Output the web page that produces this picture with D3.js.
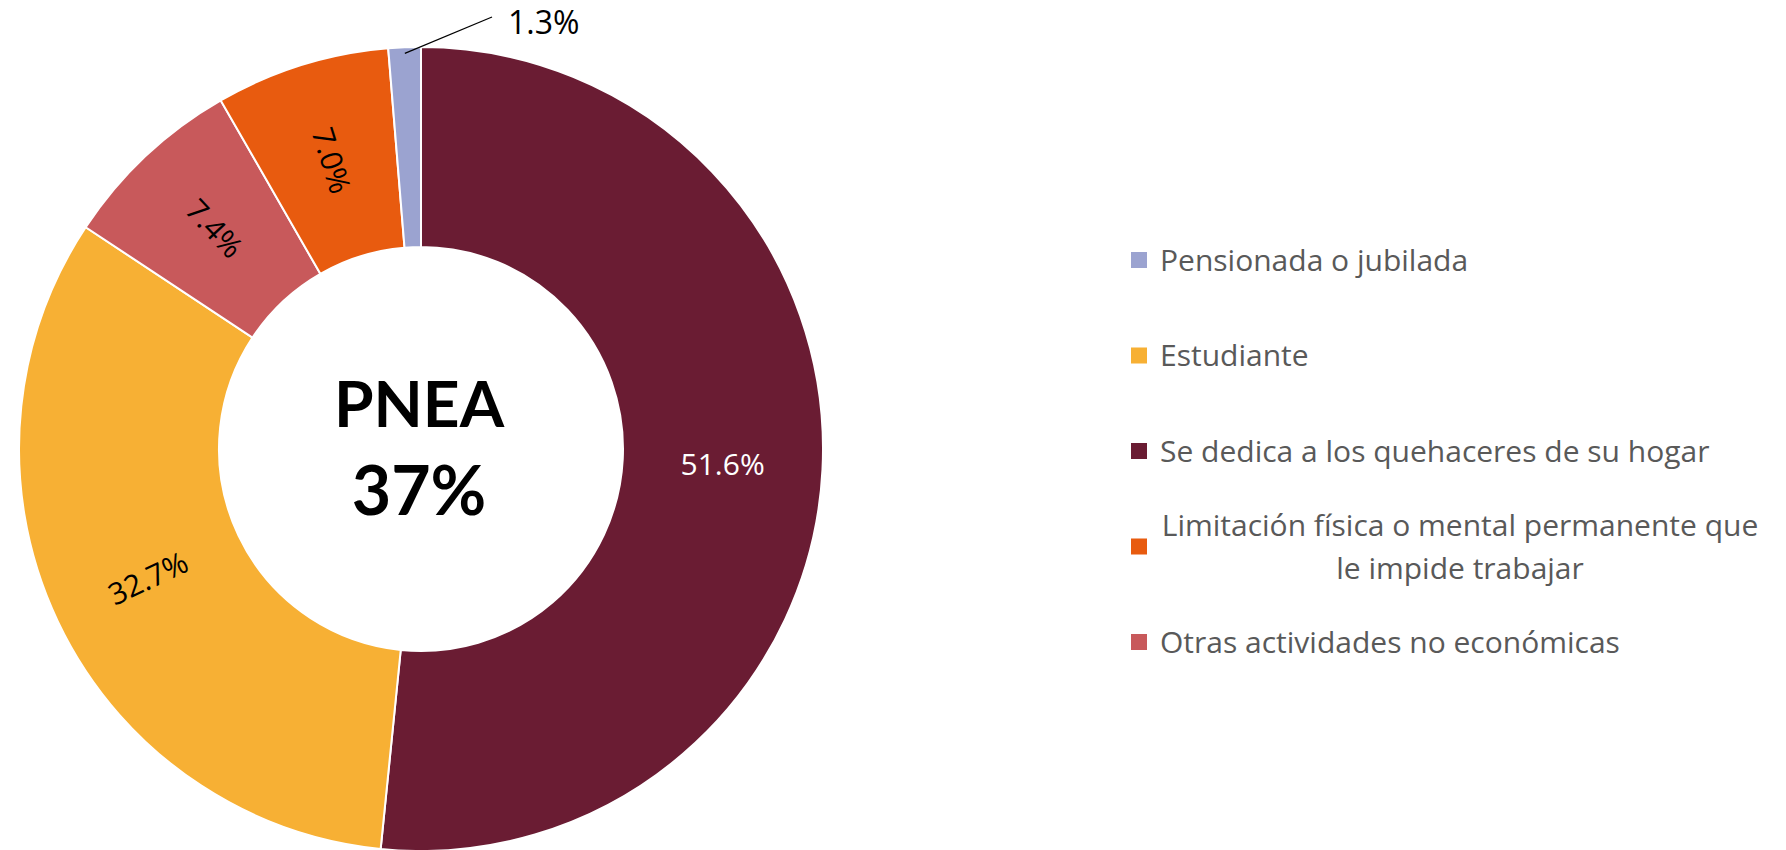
<!DOCTYPE html>
<html>
<head>
<meta charset="utf-8">
<script src="https://cdn.jsdelivr.net/npm/d3@7"></script>
<style>
  body { margin: 0; background: #ffffff; }
  svg { display: block; }
</style>
</head>
<body>
<div class="donut-container"></div>
<script>
// slices, clockwise from 12 o'clock
const categories = ['Se dedica a los quehaceres de su hogar', 'Estudiante', 'Otras actividades no económicas', 'Limitación física o mental permanente que le impide trabajar', 'Pensionada o jubilada'];
const values = [51.6, 32.7, 7.4, 7.0, 1.3];
const colors = ['#6A1C33', '#F7B034', '#C8595B', '#E85B0F', '#9BA3D0'];
const labelColors = ['#ffffff', '#000000', '#000000', '#000000', '#000000'];

// legend order as in the original
const legendOrder = ['Pensionada o jubilada', 'Estudiante', 'Se dedica a los quehaceres de su hogar', 'Limitación física o mental permanente que le impide trabajar', 'Otras actividades no económicas'];
const legendLines = [['Pensionada o jubilada'], ['Estudiante'], ['Se dedica a los quehaceres de su hogar'], ['Limitación física o mental permanente que', 'le impide trabajar'], ['Otras actividades no económicas']];

const centerTitle = 'PNEA';
const centerValue = '37%';

const width = 1786;
const height = 850;

const cx = 421, cy = 449;
const outerR = 402, innerR = 202;

const svg = d3.select('.donut-container')
.append('svg')
.attr('width', width)
.attr('height', height);

const color = d3.scaleOrdinal().domain(categories).range(colors);

const pie = d3.pie()
.sort(null)
.value(d => d.value);

const arcs = pie(categories.map((c, i) => ({ name: c, value: values[i], labelColor: labelColors[i] })));

const arc = d3.arc()
.innerRadius(innerR)
.outerRadius(outerR);

const donut = svg.append('g')
.attr('transform', `translate(${cx},${cy})`);

donut.selectAll('path')
.data(arcs)
.enter()
.append('path')
.attr('d', arc)
.attr('fill', d => color(d.data.name))
.attr('stroke', '#ffffff')
.attr('stroke-width', 2);

const fmt = v => v.toFixed(1) + '%';

// inside labels, rotated along the radius like the original
donut.selectAll('.slice-label')
.data(arcs.filter(d => d.data.value >= 5))
.enter()
.append('text')
.attr('class', 'slice-label')
.attr('transform', d => {
	let c = arc.centroid(d);
	let a = (d.startAngle + d.endAngle) / 2 * 180 / Math.PI;
	let rot = 0;
	if (d.data.value < 40) rot = a < 180 ? a - 90 : a + 90;
	return `translate(${c[0]},${c[1]}) rotate(${rot})`;
})
.attr('text-anchor', 'middle')
.attr('dy', '0.35em')
.attr('font-family', '"Open Sans", "Noto Sans", sans-serif')
.attr('font-size', 30)
.attr('fill', d => d.data.labelColor)
.text(d => fmt(d.data.value));

// small slice: label outside with a leader line
arcs.filter(d => d.data.value < 5).forEach(d => {
	let a = (d.startAngle + d.endAngle) / 2;
	let r0 = outerR - 6;
	let x0 = Math.sin(a) * r0, y0 = -Math.cos(a) * r0;
	let x1 = 492 - cx, y1 = 17 - cy;

	donut.append('line')
	.attr('x1', x0)
	.attr('y1', y0)
	.attr('x2', x1)
	.attr('y2', y1)
	.attr('stroke', '#000000')
	.attr('stroke-width', 1.2);

	donut.append('text')
	.attr('x', x1 + 16)
	.attr('y', y1 + 17)
	.attr('font-family', '"Open Sans", "Noto Sans", sans-serif')
	.attr('font-size', 32)
	.attr('fill', '#000000')
	.text(fmt(d.data.value));
})

// centre text
donut.append('text')
.attr('x', -2)
.attr('y', -22)
.attr('text-anchor', 'middle')
.attr('font-family', 'Lato, "Open Sans", sans-serif')
.attr('font-weight', 700)
.attr('font-size', 64)
.attr('fill', '#000000')
.text(centerTitle);

donut.append('text')
.attr('x', -2)
.attr('y', 66)
.attr('text-anchor', 'middle')
.attr('font-family', 'Lato, "Open Sans", sans-serif')
.attr('font-weight', 700)
.attr('font-size', 68)
.attr('fill', '#000000')
.text(centerValue);

// legend
const legendY = d3.scalePoint()
.domain(legendOrder)
.range([260, 642]);

const legend = svg.append('g');

legendOrder.forEach((name, i) => {
	let y = legendY(name);
	let lines = legendLines[i];

	legend.append('rect')
	.attr('x', 1131)
	.attr('y', y - 8)
	.attr('width', 16)
	.attr('height', 16)
	.attr('fill', color(name));

	let t = legend.append('text')
	.attr('font-family', '"Open Sans", "Noto Sans", sans-serif')
	.attr('font-size', 30)
	.attr('fill', '#595959');

	if (lines.length === 1) {
		t.append('tspan')
		.attr('x', 1160)
		.attr('y', y)
		.attr('dy', '0.36em')
		.text(lines[0]);
	} else {
		lines.forEach((l, j) => {
			t.append('tspan')
			.attr('x', 1460)
			.attr('text-anchor', 'middle')
			.attr('y', y + (j - (lines.length - 1) / 2) * 43)
			.attr('dy', '0.36em')
			.text(l);
		})
	}
})
</script>
</body>
</html>
